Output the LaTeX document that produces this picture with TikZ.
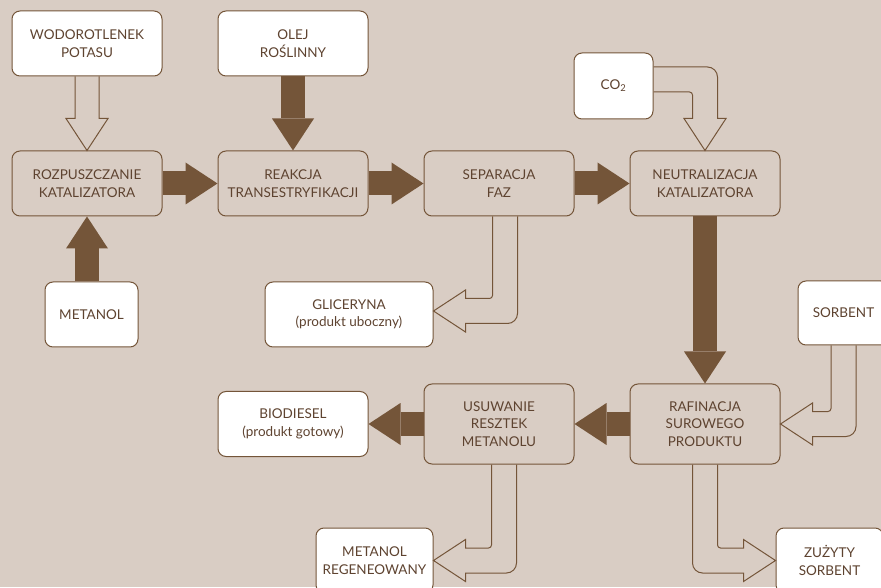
\documentclass[tikz,border=0pt]{standalone}
\usepackage{fontspec}
\setmainfont{Lato}
\usetikzlibrary{arrows.meta}
\usetikzlibrary{positioning,calc}
\definecolor{bgc}{HTML}{D9CDC4}
\definecolor{brn}{HTML}{745539}
\definecolor{txt}{HTML}{5E4330}

\begin{document}
\begin{tikzpicture}[x=1pt,y=1pt,
    box/.style={draw=brn,line width=1pt,rounded corners=8pt,align=center,inner sep=0pt,minimum width=150pt,minimum height=65pt,text=txt,font=\fontsize{13.5}{17.5}\selectfont},
    proc/.style={box,fill=bgc},
    src/.style={box,fill=white},
    fat/.style={draw=brn,line width=24pt,-{Triangle[length=32pt,width=42pt,line width=0pt]}},
    hollow/.style={draw=brn,line width=1pt}]

    \useasboundingbox (0,0) rectangle (881,587);
    \clip (0,0) rectangle (881,587);
    \fill[bgc] (0,0) rectangle (881,587);

    % main line
    \node[proc] (roz) at (87,403.5) {ROZPUSZCZANIE\\KATALIZATORA};
    \node[proc, right=55pt of roz] (reak) {REAKCJA\\TRANSESTRYFIKACJI};
    \node[proc, right=55pt of reak] (sep) {SEPARACJA\\FAZ};
    \node[proc, right=55pt of sep] (neu) {NEUTRALIZACJA\\KATALIZATORA};
    \node[proc, minimum height=80pt, below=167pt of neu] (raf) {RAFINACJA\\SUROWEGO\\PRODUKTU};
    \node[proc, minimum height=80pt, left=55pt of raf] (usu) {USUWANIE\\RESZTEK\\METANOLU};
    \node[src, left=55pt of usu] (bio) {BIODIESEL\\(produkt gotowy)};

    % inputs and outputs
    \node[src, above=74pt of roz] (wod) {WODOROTLENEK\\POTASU};
    \node[src, above=74pt of reak] (olej) {OLEJ\\ROŚLINNY};
    \node[src, minimum width=93pt, below=65pt of roz, xshift=4.5pt] (met) {METANOL};
    \node[src, minimum width=168pt, below=65pt of reak, xshift=56pt] (gli) {GLICERYNA\\(produkt uboczny)};
    \node[src, minimum width=79pt, minimum height=66pt] (co2) at (613.5,501) {CO\textsubscript{2}};
    \node[src, minimum width=91pt, minimum height=64pt] (sor) at (843.5,274) {SORBENT};
    \node[src, minimum width=117pt] (mreg) at (374.5,26.5) {METANOL\\REGENEOWANY};
    \node[src, minimum width=107pt] (zuz) at (829.5,26.5) {ZUŻYTY\\SORBENT};

    % solid arrows
    \draw[fat] (roz.east) -- (reak.west);
    \draw[fat] (reak.east) -- (sep.west);
    \draw[fat] (sep.east) -- (neu.west);
    \draw[fat] (olej.south) -- (reak.north);
    \draw[fat] (roz.south |- met.north) -- (roz.south);
    \draw[fat] (neu.south) -- (raf.north);
    \draw[fat] (raf.west) -- (usu.east);
    \draw[fat] (usu.west) -- (bio.east);

    % hollow arrows
    \draw[hollow] ([xshift=-12pt]wod.south) -- ([shift={(-12pt,32pt)}]roz.north) -- ([shift={(-21pt,32pt)}]roz.north) -- (roz.north) -- ([shift={(21pt,32pt)}]roz.north) -- ([shift={(12pt,32pt)}]roz.north) -- ([xshift=12pt]wod.south);

    \coordinate (s1) at ([xshift=6pt]sep.south);
    \coordinate (t1) at ([yshift=3.5pt]gli.east);
    \coordinate (c1) at (s1 |- t1);
    \draw[hollow] ($(s1)+(-12.5,0)$) -- ($(c1)+(-12.5,15.5)$) arc[start angle=0,end angle=-90,radius=3pt] -- ($(t1)+(32,12.5)$) -- ($(t1)+(32,21)$) -- (t1) -- ($(t1)+(32,-21)$) -- ($(t1)+(32,-12.5)$) -- ($(c1)+(2.5,-12.5)$) arc[start angle=-90,end angle=0,radius=10pt] -- ($(s1)+(12.5,0)$);

    \coordinate (s2) at (sor.south);
    \coordinate (t2) at (raf.east);
    \coordinate (c2) at (s2 |- t2);
    \draw[hollow] ($(s2)+(-12.5,0)$) -- ($(c2)+(-12.5,15.5)$) arc[start angle=0,end angle=-90,radius=3pt] -- ($(t2)+(32,12.5)$) -- ($(t2)+(32,21)$) -- (t2) -- ($(t2)+(32,-21)$) -- ($(t2)+(32,-12.5)$) -- ($(c2)+(2.5,-12.5)$) arc[start angle=-90,end angle=0,radius=10pt] -- ($(s2)+(12.5,0)$);

    \coordinate (s3) at ([xshift=5pt]usu.south);
    \coordinate (t3) at (mreg.east);
    \coordinate (c3) at (s3 |- t3);
    \draw[hollow] ($(s3)+(-12.5,0)$) -- ($(c3)+(-12.5,15.5)$) arc[start angle=0,end angle=-90,radius=3pt] -- ($(t3)+(32,12.5)$) -- ($(t3)+(32,21)$) -- (t3) -- ($(t3)+(32,-21)$) -- ($(t3)+(32,-12.5)$) -- ($(c3)+(2.5,-12.5)$) arc[start angle=-90,end angle=0,radius=10pt] -- ($(s3)+(12.5,0)$);

    \coordinate (s4) at (raf.south);
    \coordinate (t4) at (zuz.west);
    \coordinate (c4) at (s4 |- t4);
    \draw[hollow] ($(s4)+(12.5,0)$) -- ($(c4)+(12.5,15.5)$) arc[start angle=180,end angle=270,radius=3pt] -- ($(t4)+(-32,12.5)$) -- ($(t4)+(-32,21)$) -- (t4) -- ($(t4)+(-32,-21)$) -- ($(t4)+(-32,-12.5)$) -- ($(c4)+(-2.5,-12.5)$) arc[start angle=270,end angle=180,radius=10pt] -- ($(s4)+(-12.5,0)$);

    \coordinate (s5) at ([yshift=6.5pt]co2.east);
    \coordinate (t5) at (neu.north);
    \coordinate (c5) at (t5 |- s5);
    \draw[hollow] ($(s5)+(0,-12.5)$) -- ($(c5)+(-15.5,-12.5)$) arc[start angle=90,end angle=0,radius=3pt] -- ($(t5)+(-12.5,32)$) -- ($(t5)+(-21,32)$) -- (t5) -- ($(t5)+(21,32)$) -- ($(t5)+(12.5,32)$) -- ($(c5)+(12.5,2.5)$) arc[start angle=0,end angle=90,radius=10pt] -- ($(s5)+(0,12.5)$);

\end{tikzpicture}
\end{document}
